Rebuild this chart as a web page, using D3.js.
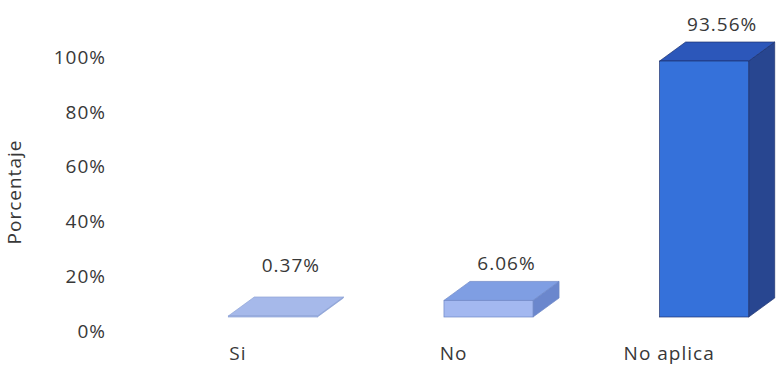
<!DOCTYPE html>
<html>
<head>
<meta charset="utf-8">
<script src="https://cdn.jsdelivr.net/npm/d3@7"></script>
<style>
  body { margin: 0; background: #fff; }
  text { font-family: "Open Sans", sans-serif; fill: #383838; }
</style>
</head>
<body>
<svg id="chart" width="776" height="379"></svg>
<script>
const categories = ["Si", "No", "No aplica"];
const values = [0.37, 6.06, 93.56];
const valueLabels = ["0.37%", "6.06%", "93.56%"];
const yTicks = [0, 20, 40, 60, 80, 100];

const svg = d3.select("#chart");

// depth of the 3d boxes
const dx = 26, dy = -19;

const x = d3.scaleBand()
    .domain(categories)
    .range([165, 812])
    .paddingInner(0.587)
    .paddingOuter(0.2935);

const y = d3.scaleLinear()
    .domain([0, 100])
    .range([317, 43.4]);

const frontColor = d3.scaleOrdinal().domain(categories).range(["#b3c5f2", "#a3b8f0", "#3571da"]);
const topColor = d3.scaleOrdinal().domain(categories).range(["#a6b9ea", "#7f9ee3", "#2c57ba"]);
const sideColor = d3.scaleOrdinal().domain(categories).range(["#8aa2dc", "#6b87cd", "#284690"]);
const edgeColor = d3.scaleOrdinal().domain(categories).range(["#8ea3d6", "#6d86c6", "#1d3270"]);

const fontSize = 19;

// y axis labels (sit a bit lower than the front floor, like excel's 3d wall)
const yaxis = svg.append("g")
    .attr("transform", "translate(106,14)")
    .call(d3.axisLeft(y).tickValues(yTicks).tickSize(0).tickPadding(0).tickFormat(d => d + "%"))
    .call(g => g.select(".domain").remove());

yaxis.selectAll("text")
    .attr("font-size", fontSize)
    .attr("letter-spacing", "1px")
    .style("font-family", "'Open Sans', sans-serif")
    .attr("fill", "#383838");

svg.append("text")
    .text("Porcentaje")
    .attr("transform", "rotate(-90)")
    .attr("text-anchor", "middle")
    .attr("x", -192)
    .attr("y", 21)
    .attr("font-size", fontSize)
    .attr("letter-spacing", "1px");

const bars = svg.selectAll("g.bar")
    .data(categories)
    .enter()
    .append("g")
    .attr("class", "bar");

bars.each(function (c, i) {
    const g = d3.select(this);
    const bx = x(c), bw = x.bandwidth();
    const yv = y(values[i]), y0 = y(0);
    const edge = edgeColor(c);

    // side face
    g.append("polygon")
        .attr("points", [[bx + bw, yv], [bx + bw + dx, yv + dy], [bx + bw + dx, y0 + dy], [bx + bw, y0]].join(" "))
        .attr("fill", sideColor(c))
        .attr("stroke", edge).attr("stroke-width", 0.7);

    // top face
    g.append("polygon")
        .attr("points", [[bx, yv], [bx + dx, yv + dy], [bx + bw + dx, yv + dy], [bx + bw, yv]].join(" "))
        .attr("fill", topColor(c))
        .attr("stroke", edge).attr("stroke-width", 0.7);

    // front face
    g.append("rect")
        .attr("x", bx)
        .attr("y", yv)
        .attr("width", bw)
        .attr("height", y0 - yv)
        .attr("fill", frontColor(c))
        .attr("stroke", edge).attr("stroke-width", 0.7);

    g.append("text")
        .attr("x", bx + bw / 2 + 18)
        .attr("y", Math.min(yv + dy - 18, y(0) - 52))
        .attr("dy", "0.35em")
        .attr("text-anchor", "middle")
        .attr("font-size", fontSize)
        .attr("letter-spacing", "1px")
        .text(valueLabels[i]);

    g.append("text")
        .attr("x", bx + bw / 2 - 35)
        .attr("y", 353)
        .attr("dy", "0.35em")
        .attr("text-anchor", "middle")
        .attr("font-size", fontSize)
        .attr("letter-spacing", "1px")
        .text(c);
});
</script>
</body>
</html>
